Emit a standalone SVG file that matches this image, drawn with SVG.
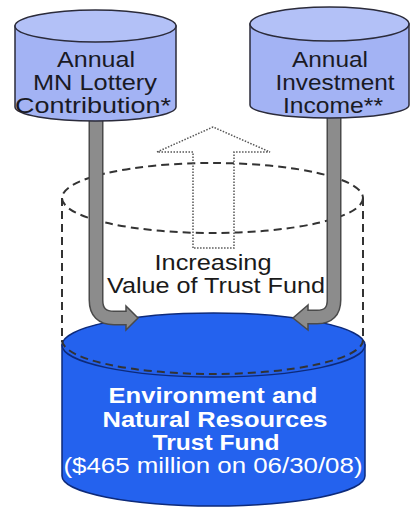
<svg xmlns="http://www.w3.org/2000/svg" width="411" height="508" viewBox="0 0 411 508">
  <defs>
    <style>
      .src-body { fill: #a3b3f4; stroke: #2b2b3a; stroke-width: 1.5; }
      .src-top { fill: #b3c1f7; stroke: #2b2b3a; stroke-width: 1.5; }
      .src-text { font-family: "Liberation Sans", Arial, sans-serif; font-size: 22px; fill: #1a1a24; text-anchor: middle; }
      .fund-body { fill: #2462ee; stroke: #0d2a7a; stroke-width: 1.5; }
      .fund-top { fill: #2462ee; stroke: #0d2a7a; stroke-width: 1.5; }
      .fund-text { font-family: "Liberation Sans", Arial, sans-serif; font-size: 22px; fill: #ffffff; text-anchor: middle; }
      .ghost { fill: none; stroke: #333333; stroke-width: 2; stroke-dasharray: 8 5; }
      .hollow { fill: none; stroke: #555555; stroke-width: 1.5; stroke-dasharray: 1.5 1.5; }
      .pipe-edge { fill: none; stroke: #4a4a4a; stroke-width: 15; }
      .pipe-core { fill: none; stroke: #8c8c8c; stroke-width: 12; }
      .pipe-head { fill: #8c8c8c; stroke: #4a4a4a; stroke-width: 1.5; stroke-linejoin: miter; }
      .label { font-family: "Liberation Sans", Arial, sans-serif; font-size: 22px; fill: #1a1a1a; text-anchor: middle; }
    </style>
  </defs>

  <rect width="411" height="508" fill="#ffffff"/>

  <!-- Projected (larger) trust fund outline -->
  <g id="future-fund">
    <ellipse class="ghost" cx="212.5" cy="198" rx="150.5" ry="35"/>
    <line class="ghost" x1="62" y1="198" x2="62" y2="342"/>
    <line class="ghost" x1="363" y1="198" x2="363" y2="342"/>
  </g>

  <!-- Hollow growth arrow -->
  <g id="growth-arrow">
    <polygon class="hollow" points="193,248 193,152 157,152 213,127 270,152 234,152 234,248"/>
  </g>

  <!-- Trust fund cylinder -->
  <g id="trust-fund">
    <path class="fund-body" d="M62,345 L62,476 A151.5,30 0 0 0 365,476 L365,345 Z"/>
    <ellipse class="fund-top" cx="213.5" cy="345" rx="151.5" ry="32"/>
    <path class="ghost" d="M62,340 A150.5,34 0 0 0 363,340"/>
    <text class="fund-text" font-weight="bold" x="213" y="403" textLength="209" lengthAdjust="spacingAndGlyphs">Environment and</text>
    <text class="fund-text" font-weight="bold" x="215" y="427" textLength="225" lengthAdjust="spacingAndGlyphs">Natural Resources</text>
    <text class="fund-text" font-weight="bold" x="216" y="450" textLength="127" lengthAdjust="spacingAndGlyphs">Trust Fund</text>
    <text class="fund-text" x="213" y="473" textLength="299" lengthAdjust="spacingAndGlyphs">($465 million on 06/30/08)</text>
  </g>

  <!-- Flows into the fund -->
  <g id="connectors">
    <path class="pipe-edge" d="M96,118 L96,300 Q96,318 114,318 L128,318"/>
    <polygon class="pipe-head" points="126,306 138,318 126,330"/>
    <path class="pipe-core" d="M96,118 L96,300 Q96,318 114,318 L127.5,318"/>

    <path class="pipe-edge" d="M334,116 L334,300 Q334,317 317,317 L306,317"/>
    <polygon class="pipe-head" points="308,305 293,318 308,330"/>
    <path class="pipe-core" d="M334,116 L334,300 Q334,317 317,317 L306.5,317"/>
  </g>

  <!-- Lottery contribution source -->
  <g id="lottery">
    <path class="src-body" d="M15,26 L15,107 A80.5,14 0 0 0 176,107 L176,26 Z"/>
    <ellipse class="src-top" cx="95.5" cy="26" rx="80.5" ry="16"/>
    <text class="src-text" x="96" y="67" textLength="78" lengthAdjust="spacingAndGlyphs">Annual</text>
    <text class="src-text" x="95" y="90" textLength="124" lengthAdjust="spacingAndGlyphs">MN Lottery</text>
    <text class="src-text" x="93" y="113" textLength="156" lengthAdjust="spacingAndGlyphs">Contribution*</text>
  </g>

  <!-- Investment income source -->
  <g id="investment">
    <path class="src-body" d="M250,24 L250,105 A79.5,13 0 0 0 409,105 L409,24 Z"/>
    <ellipse class="src-top" cx="329.5" cy="24" rx="79.5" ry="17"/>
    <text class="src-text" x="330" y="67" textLength="76" lengthAdjust="spacingAndGlyphs">Annual</text>
    <text class="src-text" x="335" y="90" textLength="119" lengthAdjust="spacingAndGlyphs">Investment</text>
    <text class="src-text" x="333" y="113" textLength="100" lengthAdjust="spacingAndGlyphs">Income**</text>
  </g>

  <!-- Growth caption -->
  <g id="caption">
    <text class="label" x="213" y="270" textLength="117" lengthAdjust="spacingAndGlyphs">Increasing</text>
    <text class="label" x="216" y="293" textLength="218" lengthAdjust="spacingAndGlyphs">Value of Trust Fund</text>
  </g>
</svg>
